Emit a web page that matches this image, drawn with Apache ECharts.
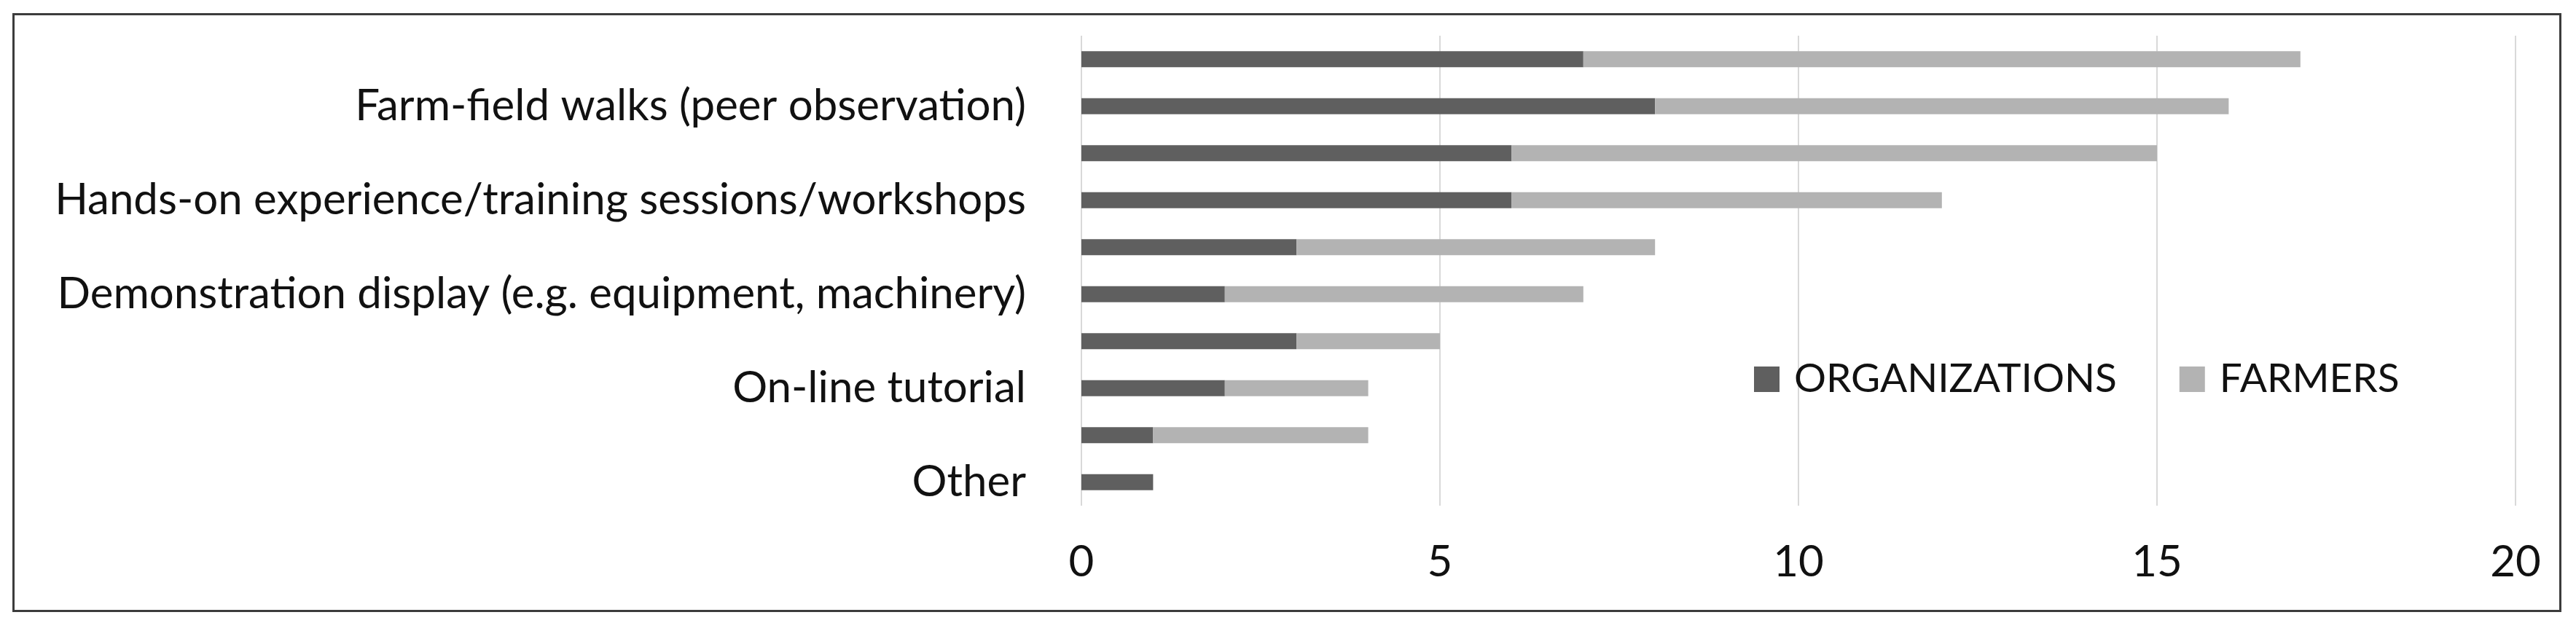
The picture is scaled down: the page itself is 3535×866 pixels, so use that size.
<!DOCTYPE html>
<html>
<head>
<meta charset="utf-8">
<script src="https://cdn.jsdelivr.net/npm/echarts@6/dist/echarts.min.js"></script>
<style>
    html, body { margin: 0; padding: 0; background: #fff; }
    #main { width: 3535px; height: 866px; }
</style>
</head>
<body>
<div id="main"></div>
<script>
// categories top to bottom; only every second one carries a visible label in the figure
var categories = ['', 'Farm-field walks (peer observation)', '', 'Hands-on experience/training sessions/workshops', '',
    'Demonstration display (e.g. equipment, machinery)', '', 'On-line tutorial', '', 'Other'];
var organizations = [7, 8, 6, 6, 3, 2, 3, 2, 1, 1];
var farmers = [10, 8, 9, 6, 5, 5, 2, 2, 3, 0];
var xTicks = { min: 0, max: 20, interval: 5 };

var font = 'Lato';
var myChart = echarts.init(document.getElementById('main'));

var option = {
    backgroundColor: '#fff',
    animation: false,
    textStyle: { fontFamily: font },
    graphic: [{
        // outer frame of the figure
        type: 'rect',
        shape: { x: 18.5, y: 19.5, width: 3495, height: 819 },
        style: { fill: 'none', stroke: '#3c3c3c', lineWidth: 3 }
    }],
    legend: {
        left: 2402,
        top: 488,
        icon: 'rect',
        itemWidth: 35,
        itemHeight: 35,
        itemGap: 86,
        textStyle: {
            fontFamily: font,
            fontSize: 55,
            lineHeight: 55,
            color: '#111',
            padding: [0, 0, 0, 15]
        },
        data: ['ORGANIZATIONS', 'FARMERS']
    },
    grid: { left: 1484, top: 49, width: 1968, height: 645 },
    xAxis: {
        type: 'value',
        min: xTicks.min,
        max: xTicks.max,
        interval: xTicks.interval,
        axisLine: { show: false },
        axisTick: { show: false },
        axisLabel: { fontFamily: font, fontSize: 60, color: '#111', margin: 48 },
        splitLine: { show: true, lineStyle: { color: '#d9d9d9', width: 2 } }
    },
    yAxis: {
        type: 'category',
        inverse: true,
        data: categories,
        axisLine: { show: false },
        axisTick: { show: false },
        axisLabel: { interval: 0, fontFamily: font, fontSize: 60, color: '#111', margin: 76 }
    },
    series: [
        {
            name: 'ORGANIZATIONS',
            type: 'bar',
            stack: 'total',
            barWidth: 22,
            itemStyle: { color: '#5f5f5f' },
            data: organizations
        },
        {
            name: 'FARMERS',
            type: 'bar',
            stack: 'total',
            barWidth: 22,
            itemStyle: { color: '#b3b3b3' },
            data: farmers
        }
    ]
};
myChart.setOption(option);
</script>
</body>
</html>
